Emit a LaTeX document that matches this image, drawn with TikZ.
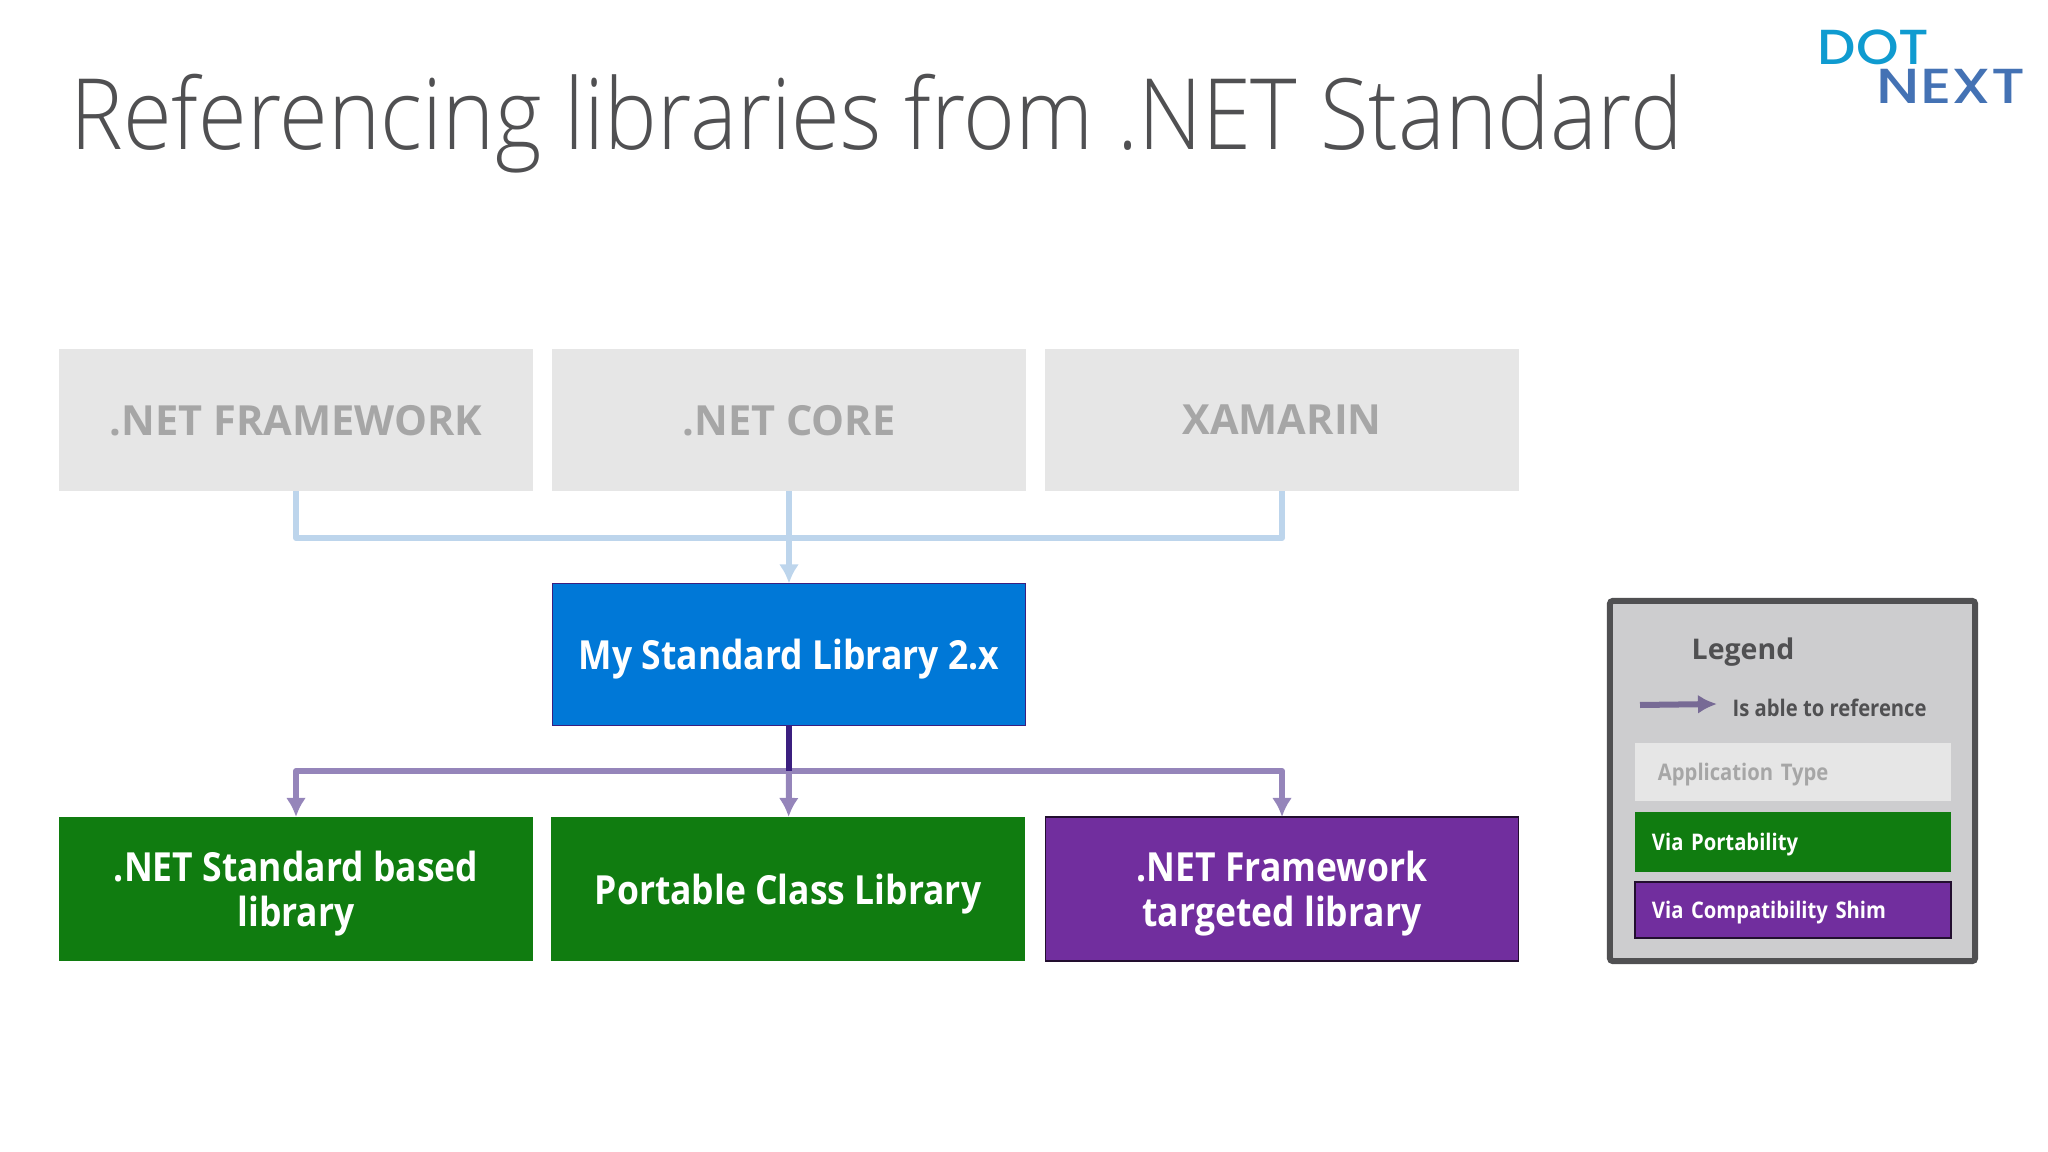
\documentclass[tikz,border=0pt]{standalone}
\usepackage{fontspec}
\setmainfont{Open Sans}
\newfontfamily\titlefont[FakeStretch=0.9]{Open Sans Light}
\newfontfamily\narrowfont[FakeStretch=0.885]{Open Sans}
\newfontfamily\logofont[FakeStretch=1.1]{Poppins Medium}
\newfontfamily\logowidefont[FakeStretch=1.22]{Poppins Medium}
\usetikzlibrary{arrows.meta}

\definecolor{boxgrey}{HTML}{E6E6E6}
\definecolor{textgrey}{HTML}{A6A6A6}
\definecolor{stdblue}{HTML}{0078D7}
\definecolor{portgreen}{HTML}{107C10}
\definecolor{shimpurple}{HTML}{712E9E}
\definecolor{busblue}{HTML}{BDD5EC}
\definecolor{buspurple}{HTML}{9585BA}
\definecolor{trunkpurple}{HTML}{3B1F7F}
\definecolor{legendgrey}{HTML}{CDCDCF}
\definecolor{legendline}{HTML}{505052}
\definecolor{dotblue}{HTML}{0F9BD0}
\definecolor{nextblue}{HTML}{4472B4}

\tikzset{
	bigbox/.style={minimum width=4.73cm, minimum height=1.42cm, inner sep=0pt, outer sep=0pt, align=center, text depth=0pt, font=\fontsize{11.4}{12.9}\narrowfont\bfseries},
	appbox/.style={bigbox, fill=boxgrey, text=textgrey, font=\fontsize{11.8}{13}\selectfont\bfseries},
	keybox/.style={minimum width=3.16cm, inner sep=0pt, text width=2.82cm, text depth=0pt, font=\fontsize{6.5}{8}\narrowfont\bfseries},
	logotext/.style={anchor=base west, inner sep=0pt},
	uptip/.style={-{Latex[length=0.19cm,width=0.2cm]}},
	vline/.style={line width=0.6mm},
	busline/.style={line width=0.6mm, line cap=round},
}

\begin{document}
\begin{tikzpicture}[x=0.01cm,y=-0.01cm]
\useasboundingbox (0,0) rectangle (2048,1152);

\node[anchor=base west, inner sep=0pt, text=legendline, font=\fontsize{28}{30}\titlefont] (title) at (70,150) {Referencing libraries from .NET Standard};

\node[logotext, text=dotblue, font=\fontsize{14}{15}\logofont] (dot) at (1817,65) {DOT};
\node[logotext, text=nextblue, font=\fontsize{14}{15}\logowidefont] (next) at (1876,104) {NEXT};

\node[appbox] (framework) at (296,420) {.NET FRAMEWORK};
\node[appbox] (core) at (789,420) {.NET CORE};
\node[appbox] (xamarin) at (1282,420) {XAMARIN};

\node[bigbox, fill=stdblue, draw=trunkpurple, text=white] (mylib) at (789,654.5) {My Standard Library 2.x};

\node[bigbox, minimum height=1.44cm, fill=portgreen, text=white] (stdlib) at (296,889) {.NET Standard based\\library};
\node[bigbox, minimum height=1.44cm, fill=portgreen, text=white] (pcl) at (788,889) {Portable Class Library};
\node[bigbox, minimum height=1.44cm, fill=shimpurple, draw=black!70!shimpurple, text=white] (fxlib) at (1282,889) {.NET Framework\\targeted library};

\coordinate (upleft) at (296,538);
\coordinate (upmid) at (789,538);
\coordinate (upright) at (1282,538);
\coordinate (downleft) at (296,771);
\coordinate (downmid) at (789,771);
\coordinate (downright) at (1282,771);

\foreach \from/\to in {framework/upleft, core/upmid, xamarin/upright}
	\draw[busblue, vline] (\from) -- (\to);
\draw[busblue, busline] (upleft) -- (upright);
\draw[busblue, vline, uptip] (upmid) -- (mylib);

\draw[buspurple, busline] (downleft) -- (downright);
\foreach \from/\to in {downleft/stdlib, downmid/pcl, downright/fxlib}
	\draw[buspurple, vline, uptip] (\from) -- (\to);
\draw[trunkpurple, vline] (mylib) -- (downmid);

% legend
\node[draw=legendline, fill=legendgrey, line width=0.6mm, rounded corners=0.3mm, minimum width=3.65cm, minimum height=3.6cm] (legend) at (1792.5,781) {};
\node[inner sep=0pt, text=legendline, font=\fontsize{8.1}{10}\selectfont\bfseries] (legendtitle) at (1743,652) {Legend};
\node[anchor=west, inner sep=0pt, text=legendline, font=\fontsize{6.5}{8}\narrowfont\bfseries] (refnote) at (1732,708) {Is able to reference};
\coordinate (keystart) at (1640,705);
\coordinate (keyend) at (1717,704);
\draw[buspurple!80!black, line width=0.6mm, -{Latex[length=0.19cm,width=0.19cm]}] (keystart) -- (keyend);
\node[keybox, fill=boxgrey, text=textgrey, minimum height=0.58cm] (keyapp) at (1793,772) {\hspace*{0.06cm}Application Type};
\node[keybox, fill=portgreen, text=white, minimum height=0.6cm] (keyport) at (1793,842) {Via Portability};
\node[keybox, fill=shimpurple, draw=black!70!shimpurple, text=white, minimum height=0.56cm] (keyshim) at (1793,910) {Via Compatibility Shim};
\end{tikzpicture}
\end{document}
